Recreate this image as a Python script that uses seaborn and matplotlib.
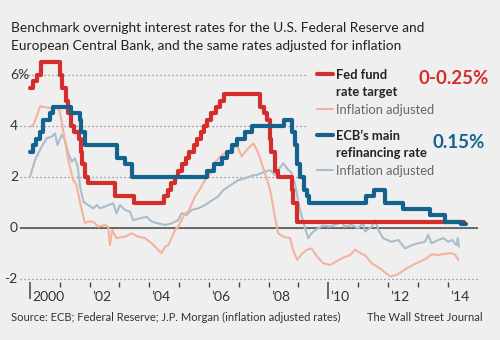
import matplotlib
matplotlib.use("Agg")
import numpy as np
import pandas as pd
import seaborn as sns
import matplotlib.pyplot as plt
from matplotlib.lines import Line2D
from matplotlib.patches import Rectangle
from matplotlib.transforms import blended_transform_factory

# ---------------- data ----------------
fed_x = [2000.00, 2000.09, 2000.22, 2000.37, 2001.00, 2001.08, 2001.21, 2001.29, 2001.37, 2001.49,
         2001.64, 2001.71, 2001.75, 2001.85, 2001.94, 2002.85, 2003.48, 2004.50, 2004.61, 2004.72,
         2004.86, 2004.95, 2005.09, 2005.22, 2005.34, 2005.49, 2005.61, 2005.72, 2005.83, 2005.95,
         2006.08, 2006.24, 2006.36, 2006.49, 2007.71, 2007.83, 2007.94, 2008.06, 2008.08, 2008.21,
         2008.33, 2008.77, 2008.83, 2008.96, 2014.55]
fed_y = [5.50, 5.75, 6.00, 6.50, 6.00, 5.50, 5.00, 4.50, 4.00, 3.75,
         3.50, 3.00, 2.50, 2.00, 1.75, 1.25, 1.00, 1.25, 1.50, 1.75,
         2.00, 2.25, 2.50, 2.75, 3.00, 3.25, 3.50, 3.75, 4.00, 4.25,
         4.50, 4.75, 5.00, 5.25, 4.75, 4.50, 4.25, 3.50, 3.00, 2.25,
         2.00, 1.50, 1.00, 0.25, 0.25]

ecb_x = [2000.00, 2000.09, 2000.21, 2000.32, 2000.44, 2000.67, 2000.76, 2001.36, 2001.66, 2001.71,
         2001.86, 2002.93, 2003.18, 2003.43, 2005.93, 2006.18, 2006.45, 2006.61, 2006.78, 2006.95,
         2007.20, 2007.45, 2008.52, 2008.79, 2008.87, 2008.94, 2009.05, 2009.19, 2009.27, 2009.36,
         2011.28, 2011.53, 2011.90, 2012.52, 2013.40, 2013.90, 2014.44, 2014.60]
ecb_y = [3.00, 3.25, 3.50, 3.75, 4.25, 4.50, 4.75, 4.50, 4.25, 3.75,
         3.25, 2.75, 2.50, 2.00, 2.25, 2.50, 2.75, 3.00, 3.25, 3.50,
         3.75, 4.00, 4.25, 3.75, 3.25, 2.50, 2.00, 1.50, 1.25, 1.00,
         1.25, 1.50, 1.00, 0.75, 0.50, 0.25, 0.15, 0.15]

fed_real_x = [2000.00, 2000.12, 2000.34, 2000.50, 2000.73, 2000.90, 2001.00, 2001.17, 2001.28, 2001.45,
              2001.56, 2001.68, 2001.84, 2001.95, 2002.12, 2002.29, 2002.51, 2002.62, 2002.68, 2002.76,
              2002.90, 2003.18, 2003.41, 2003.63, 2003.86, 2004.08, 2004.30, 2004.41, 2004.53, 2004.64,
              2004.86, 2004.97, 2005.20, 2005.31, 2005.53, 2005.64, 2005.87, 2006.03, 2006.20, 2006.43,
              2006.59, 2006.78, 2006.93, 2007.10, 2007.26, 2007.49, 2007.65, 2007.88, 2008.05, 2008.21,
              2008.32, 2008.49, 2008.72, 2008.83, 2008.96, 2009.11, 2009.27, 2009.44, 2009.61, 2009.83,
              2010.06, 2010.28, 2010.45, 2010.73, 2010.90, 2011.12, 2011.23, 2011.45, 2011.73, 2012.07,
              2012.29, 2012.63, 2012.96, 2013.30, 2013.46, 2013.69, 2013.97, 2014.14, 2014.25, 2014.36]
fed_real_y = [3.97, 4.05, 4.78, 4.74, 4.69, 4.76, 4.56, 3.45, 2.67, 1.88,
              1.69, 0.98, 0.20, 0.25, 0.25, 0.05, 0.12, 0.05, -0.67, -0.08,
              -0.40, -0.34, -0.21, -0.34, -0.40, -0.60, -0.86, -0.99, -0.73, -0.67,
              -0.08, 0.05, 0.58, 0.64, 1.23, 1.42, 1.88, 2.10, 2.57, 2.86,
              2.99, 3.10, 3.25, 2.80, 3.06, 3.32, 2.95, 2.14, 1.49, 0.44,
              -0.21, -0.34, -0.40, -0.90, -1.25, -1.02, -0.86, -0.80, -1.10, -1.38,
              -1.45, -1.30, -1.19, -1.06, -0.85, -1.02, -1.06, -1.38, -1.58, -1.90,
              -1.84, -1.58, -1.38, -1.19, -1.03, -1.06, -1.00, -0.99, -1.05, -1.25]

ecb_real_x = [2000.00, 2000.17, 2000.39, 2000.56, 2000.73, 2000.84, 2000.92, 2001.06, 2001.17, 2001.28,
              2001.40, 2001.51, 2001.60, 2001.68, 2001.79, 2001.95, 2002.12, 2002.24, 2002.35, 2002.51,
              2002.79, 2002.90, 2003.02, 2003.18, 2003.35, 2003.46, 2003.69, 2003.91, 2004.08, 2004.30,
              2004.53, 2004.75, 2004.97, 2005.08, 2005.25, 2005.42, 2005.64, 2005.87, 2006.03, 2006.20,
              2006.30, 2006.48, 2006.65, 2006.82, 2006.98, 2007.21, 2007.43, 2007.65, 2007.88, 2008.05,
              2008.21, 2008.32, 2008.49, 2008.66, 2008.75, 2008.88, 2009.05, 2009.22, 2009.33, 2009.44,
              2009.61, 2009.83, 2010.06, 2010.20, 2010.45, 2010.56, 2010.78, 2011.00, 2011.17, 2011.23,
              2011.45, 2011.57, 2011.68, 2011.84, 2012.12, 2012.35, 2012.57, 2012.80, 2013.02, 2013.24,
              2013.35, 2013.46, 2013.69, 2013.86, 2014.02, 2014.15, 2014.30, 2014.34, 2014.38]
ecb_real_y = [2.01, 2.67, 3.19, 3.52, 3.58, 3.71, 3.25, 3.65, 3.45, 2.93,
              2.60, 2.73, 2.40, 1.62, 1.03, 0.90, 0.77, 0.90, 0.77, 0.84,
              0.97, 0.58, 0.90, 0.71, 0.64, 0.31, 0.38, 0.44, 0.25, 0.18,
              0.12, 0.18, 0.31, 0.58, 0.51, 0.71, 0.77, 0.90, 1.03, 1.16,
              1.23, 1.49, 1.62, 1.75, 1.88, 1.95, 2.05, 2.10, 2.21, 2.27,
              2.08, 2.27, 2.54, 2.27, 2.20, 1.75, 0.71, -0.01, -0.40, -0.20,
              -0.05, 0.10, 0.05, 0.12, 0.22, 0.05, 0.12, -0.01, 0.20, -0.14,
              0.05, 0.30, -0.08, -0.40, -0.54, -0.47, -0.80, -0.67, -0.60, -0.54,
              -0.27, -0.60, -0.47, -0.40, -0.54, -0.47, -0.67, -0.40, -0.73]

ytick_vals = [-2, 0, 2, 4, 6]
ytick_labels = ["-2", "0", "2", "4", "6%"]
year_ticks = list(range(2000, 2015))
long_ticks = [2000, 2010]
xlabel_years = [2000, 2002, 2004, 2006, 2008, 2010, 2012, 2014]
xtick_labels = ["2000", "\u201902", "\u201904", "\u201906", "\u201908", "\u201910", "\u201912", "\u201914"]

title_lines = ["Benchmark overnight interest rates for the U.S. Federal Reserve and",
               "European Central Bank, and the same rates adjusted for inflation"]
source_text = "Source: ECB; Federal Reserve; J.P. Morgan (inflation adjusted rates)"
credit_text = "The Wall Street Journal"
fed_labels = ["Fed fund", "rate target", "Inflation adjusted"]
ecb_labels = ["ECB\u2019s main", "refinancing rate", "Inflation adjusted"]
fed_value = "0-0.25%"
ecb_value = "0.15%"

# ---------------- style ----------------
sns.set_theme(style="white")
plt.rcParams['font.family'] = ['Lato', 'DejaVu Sans']

BG = '#efefef'
RED = '#d42e2c'
BLUE = '#14638f'
SALMON = '#f3b39d'
GREYBLUE = '#a9bdcc'
W, H = 500, 340

fig = plt.figure(figsize=(W / 100, H / 100), dpi=100, facecolor=BG)

ax_l, ax_r, ax_t, ax_b = 20, 478, 52.05, 281.55
ax = fig.add_axes([ax_l / W, 1 - ax_b / H, (ax_r - ax_l) / W, (ax_b - ax_t) / H])
ax.set_facecolor(BG)
for s in ax.spines.values():
    s.set_visible(False)
ax.set_xlim(1999.665, 2015.018)
ax.set_ylim(-2.1, 6.9)

# lines
sns.lineplot(x=ecb_real_x, y=ecb_real_y, ax=ax, color=GREYBLUE, lw=1.5, estimator=None, sort=False, zorder=2)
sns.lineplot(x=fed_real_x, y=fed_real_y, ax=ax, color=SALMON, lw=1.5, estimator=None, sort=False, zorder=2)
sns.lineplot(x=fed_x, y=fed_y, ax=ax, color=RED, lw=3.0, estimator=None, sort=False,
             drawstyle='steps-post', zorder=3)
sns.lineplot(x=ecb_x, y=ecb_y, ax=ax, color=BLUE, lw=3.0, estimator=None, sort=False,
             drawstyle='steps-post', zorder=4)
ax.set_xlabel("")
ax.set_ylabel("")

# grid
ax.set_yticks(ytick_vals)
ax.yaxis.grid(True, linestyle=(0, (1, 2.2)), color='#808080', lw=0.9)
ax.tick_params(axis='y', length=0, labelleft=False)
ax.axhline(0, color='#555555', lw=1.2, zorder=1.5)
# cover the grid behind legend
ax.add_patch(Rectangle(((306 - ax_l) / (ax_r - ax_l), (ax_b - 186) / (ax_b - ax_t)),
                       1, 1, transform=ax.transAxes, facecolor=BG, edgecolor='none', zorder=1))

# y labels
tr = blended_transform_factory(fig.transFigure, ax.transData)
for v, lab in zip(ytick_vals, ytick_labels):
    xoff = 4 if lab.startswith('-') else 10
    ax.text(xoff / W, v, lab, transform=tr, ha='left', va='center', fontsize=10, color='#333333')

# x ticks
ax.set_xticks(long_ticks)
ax.set_xticks(year_ticks, minor=True)
ax.tick_params(axis='x', which='major', direction='out', length=12, width=1.1, color='#444444',
               labelbottom=False, bottom=True)
ax.tick_params(axis='x', which='minor', direction='out', length=3.5, width=1.0, color='#444444',
               labelbottom=False, bottom=True)
sec = ax.secondary_xaxis('bottom')
sec.set_xticks([y + 0.08 for y in xlabel_years], labels=xtick_labels)
sec.tick_params(length=0, pad=6.5, labelsize=10, labelcolor='#333333')
for lab in sec.get_xticklabels():
    lab.set_horizontalalignment('left')
sec.spines['bottom'].set_visible(False)

# legends
fed_handles = [Line2D([0], [0], color=RED, lw=3.0), Line2D([], [], color='none'),
               Line2D([0], [0], color=SALMON, lw=1.5)]
ecb_handles = [Line2D([0], [0], color=BLUE, lw=3.0), Line2D([], [], color='none'),
               Line2D([0], [0], color=GREYBLUE, lw=1.5)]
leg_kw = dict(loc='upper left', frameon=False, fontsize=9.3, handlelength=1.2, handletextpad=0.3,
              labelspacing=0.42, borderpad=0.0, borderaxespad=0.0, bbox_transform=fig.transFigure)
leg1 = ax.legend(fed_handles, fed_labels, bbox_to_anchor=(317 / W, 1 - 69 / H), **leg_kw)
ax.add_artist(leg1)
leg2 = ax.legend(ecb_handles, ecb_labels, bbox_to_anchor=(317 / W, 1 - 130 / H), **leg_kw)
for lg in (leg1, leg2):
    t = lg.get_texts()
    t[0].set_fontweight('bold'); t[0].set_color('#222222')
    t[1].set_fontweight('bold'); t[1].set_color('#222222')
    t[2].set_color('#666666')

fig.text(489 / W, 1 - 79 / H, fed_value, ha='right', va='center', color=RED, fontsize=13.5, fontweight='bold')
fig.text(485 / W, 1 - 142 / H, ecb_value, ha='right', va='center', color=BLUE, fontsize=13.5, fontweight='bold')

# title and footer
fig.text(11 / W, 1 - 31.7 / H, title_lines[0], ha='left', va='baseline', fontsize=9.9, color='#222222')
fig.text(11 / W, 1 - 50 / H, title_lines[1], ha='left', va='baseline', fontsize=9.9, color='#222222')
fig.text(11 / W, 1 - 321 / H, source_text, ha='left', va='baseline', fontsize=8.0, color='#333333')
fig.text(483 / W, 1 - 321 / H, credit_text, ha='right', va='baseline', fontsize=8.0, color='#333333')

fig.savefig("out.png", dpi=100, facecolor=BG)
